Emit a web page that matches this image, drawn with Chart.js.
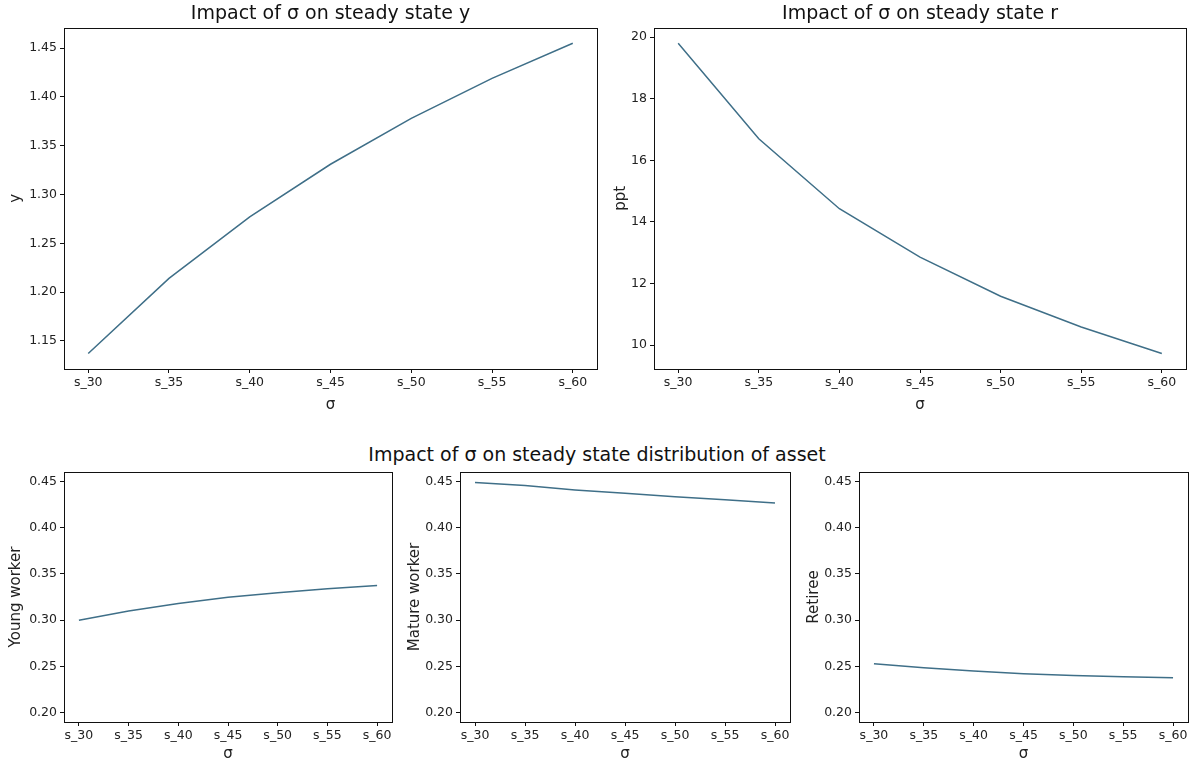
<!DOCTYPE html>
<html>
<head>
<meta charset="utf-8">
<script src="https://cdn.jsdelivr.net/npm/chart.js@4"></script>
<style>
  body { margin: 0; background: #fff; width: 1192px; height: 767px; position: relative; overflow: hidden; }
  .box { position: absolute; }
  #suptitle { position: absolute; left: 0; width: 1194px; top: 443px; text-align: center;
    font-family: "DejaVu Sans", sans-serif; font-size: 19px; color: #111; }
</style>
</head>
<body>
<div class="box" style="left:0;top:0;width:600px;height:420px"><canvas id="cY"></canvas></div>
<div class="box" style="left:590px;top:0;width:602px;height:420px"><canvas id="cR"></canvas></div>
<div id="suptitle">Impact of σ on steady state distribution of asset</div>
<div class="box" style="left:0;top:440px;width:400px;height:327px"><canvas id="cYoung"></canvas></div>
<div class="box" style="left:400px;top:440px;width:400px;height:327px"><canvas id="cMature"></canvas></div>
<div class="box" style="left:800px;top:440px;width:392px;height:327px"><canvas id="cRetiree"></canvas></div>
<script>
const sigmaLabels = ["s_30", "s_35", "s_40", "s_45", "s_50", "s_55", "s_60"];
const outputY = [1.137, 1.214, 1.277, 1.331, 1.378, 1.419, 1.455];
const rateR = [19.80, 16.70, 14.43, 12.86, 11.59, 10.59, 9.73];
const youngWorker = [0.300, 0.310, 0.318, 0.3248, 0.3295, 0.3338, 0.3374];
const matureWorker = [0.4486, 0.4453, 0.4406, 0.437, 0.4334, 0.430, 0.4266];
const retiree = [0.2529, 0.2486, 0.245, 0.2421, 0.2403, 0.2389, 0.2378];

const FONT = "'DejaVu Sans', sans-serif";
const LINE_COLOR = "#3f6f88";

// draws the full box round the plot area, like matplotlib spines
const frame = {
  id: "frame",
  afterDraw(chart) {
    const a = chart.chartArea, ctx = chart.ctx;
    ctx.save();
    ctx.strokeStyle = "#111";
    ctx.lineWidth = 1;
    ctx.strokeRect(Math.round(a.left) + 0.5, Math.round(a.top) + 0.5,
      Math.round(a.right - a.left), Math.round(a.bottom - a.top));
    ctx.restore();
  }
};

function padRange(vals) {
  const lo = Math.min(...vals), hi = Math.max(...vals), m = (hi - lo) * 0.05;
  return [lo - m, hi + m];
}

function makeChart(id, values, o) {
  const pts = values.map((v, i) => ({ x: i, y: v }));
  return new Chart(document.getElementById(id), {
    type: "line",
    data: { datasets: [{ data: pts, borderColor: LINE_COLOR, borderWidth: 1.5,
      pointRadius: 0, tension: 0, fill: false }] },
    options: {
      responsive: true, maintainAspectRatio: false, animation: false,
      layout: { padding: o.padding },
      plugins: {
        legend: { display: false }, tooltip: { enabled: false },
        title: o.title ? { display: true, text: o.title, fullSize: false, color: "#111",
          font: { family: FONT, size: 19, weight: "normal" }, padding: { top: 3, bottom: 2 } }
          : { display: false }
      },
      scales: {
        x: {
          type: "linear", min: -0.3, max: 6.3,
          border: { display: false },
          grid: { drawOnChartArea: false, drawTicks: true, tickLength: 4, color: "#111" },
          ticks: { stepSize: 1, includeBounds: false, autoSkip: false, maxRotation: 0,
            color: "#222", font: { family: FONT, size: 12.5 }, padding: 2,
            callback: v => sigmaLabels[v] },
          title: { display: true, text: "σ", color: "#222", font: { family: FONT, size: 15 }, padding: 1 },
          afterFit: s => { s.height = o.xh; }
        },
        y: {
          min: o.range[0], max: o.range[1],
          border: { display: false },
          grid: { drawOnChartArea: false, drawTicks: true, tickLength: 4, color: "#111" },
          ticks: { stepSize: o.step, includeBounds: false, color: "#222",
            font: { family: FONT, size: 12.5 }, padding: 3,
            callback: v => v.toFixed(o.dec) },
          title: { display: true, text: o.ylabel, color: "#222", font: { family: FONT, size: 15 }, padding: 2 },
          afterFit: s => { s.width = o.yw; }
        }
      }
    },
    plugins: [frame]
  });
}

makeChart("cY", outputY, { title: "Impact of σ on steady state y", ylabel: "y",
  range: padRange(outputY), step: 0.05, dec: 2, yw: 59, xh: 46,
  padding: { left: 5, right: 3, top: 0, bottom: 5 } });
makeChart("cR", rateR, { title: "Impact of σ on steady state r", ylabel: "ppt",
  range: padRange(rateR), step: 2, dec: 0, yw: 44, xh: 46,
  padding: { left: 20, right: 6, top: 0, bottom: 5 } });
makeChart("cYoung", youngWorker, { ylabel: "Young worker", range: [0.19, 0.46], step: 0.05, dec: 2,
  yw: 59, xh: 42, padding: { left: 5, right: 8, top: 32, bottom: 3 } });
makeChart("cMature", matureWorker, { ylabel: "Mature worker", range: [0.19, 0.46], step: 0.05, dec: 2,
  yw: 56, xh: 42, padding: { left: 4, right: 10, top: 32, bottom: 3 } });
makeChart("cRetiree", retiree, { ylabel: "Retiree", range: [0.19, 0.46], step: 0.05, dec: 2,
  yw: 56, xh: 42, padding: { left: 3, right: 4, top: 32, bottom: 3 } });
</script>
</body>
</html>
